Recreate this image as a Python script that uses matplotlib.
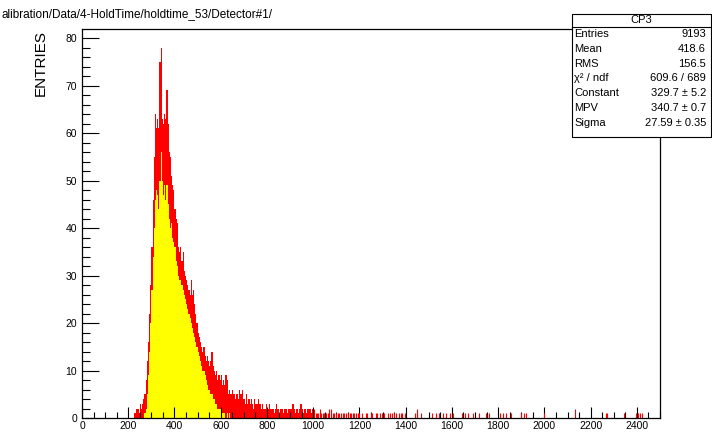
import matplotlib
matplotlib.use('Agg')
import numpy as np
from matplotlib import pyplot as plt
from matplotlib.ticker import MultipleLocator
from matplotlib.patches import Rectangle
from matplotlib.lines import Line2D

plt.rcParams['font.family'] = ['Liberation Sans', 'DejaVu Sans']

# dense part of the histogram, read as 5-unit columns: top of the red outline
# and top of the yellow fill in each column
dense_start = 225
dense_width = 5
upper = [1, 1, 2, 2, 1, 3, 2, 3,
         4, 5, 8, 12, 16, 22, 28, 36,
         46, 55, 64, 61, 63, 61, 75, 78,
         63, 62, 64, 63, 69, 62, 56, 55,
         51, 49, 48, 44, 42, 41, 36, 35,
         36, 33, 35, 31, 30, 29, 28, 27,
         26, 29, 26, 27, 24, 22, 20, 18,
         17, 16, 15, 14, 15, 13, 12, 13,
         12, 11, 12, 14, 11, 10, 9, 10,
         8, 9, 8, 9, 7, 8, 7, 9,
         8, 5, 6, 5, 5, 6, 5, 4,
         5, 5, 4, 6, 5, 6, 4, 4,
         3, 5, 3, 4, 3, 4, 3, 2,
         4, 3, 3, 4, 3, 3, 2, 3,
         2, 2, 3, 2, 2, 3, 2, 2,
         2, 1, 2, 3, 2, 1, 2, 2,
         2, 1, 2, 2, 1, 2, 2, 2,
         2, 3, 2, 1, 2, 2, 1, 2,
         3, 2, 1, 2, 2, 1, 2, 2,
         2, 1, 2]
lower = [0, 0, 0, 0, 0, 0, 0, 0,
         0, 1, 2, 5, 9, 14, 20, 27,
         34, 40, 46, 48, 47, 44, 50, 56,
         50, 47, 49, 46, 49, 45, 42, 40,
         41, 38, 37, 36, 33, 32, 30, 29,
         29, 28, 27, 26, 25, 24, 23, 22,
         21, 20, 19, 18, 17, 16, 15, 14,
         13, 12, 11, 10, 10, 9, 8, 7,
         6, 6, 5, 5, 4, 4, 3, 3,
         2, 2, 2, 1, 1, 1, 1, 0,
         1, 0, 1, 0, 0, 0, 0, 0] + [0] * 67

# isolated bins in the long tail
tail_x = [1003, 1010, 1016, 1022, 1029, 1035, 1041, 1048, 1055, 1062, 1070,
          1078, 1085, 1092, 1100, 1108, 1113, 1120, 1127, 1135, 1142, 1150,
          1158, 1163, 1170, 1178, 1185, 1192, 1198, 1213, 1227, 1233, 1248,
          1255, 1270, 1275, 1291, 1298, 1305, 1325, 1332, 1340, 1348, 1360,
          1370, 1378, 1385, 1395, 1442, 1450, 1465, 1515, 1530, 1545, 1560,
          1575, 1590, 1605, 1645, 1655, 1670, 1690, 1716, 1748, 1760, 1810,
          1820, 1835, 1855, 1898, 1910, 1922, 1999, 2133, 2265, 2272, 2346,
          2398, 2405, 2415, 2420]
tail_n = [2, 1, 1, 1, 2, 1, 1, 1, 1, 1, 2,
          2, 1, 1, 1, 1, 1, 1, 1, 1, 1, 1,
          1, 1, 1, 1, 1, 1, 1, 1, 1, 1, 1,
          1, 1, 1, 1, 1, 1, 1, 1, 1, 1, 1,
          1, 1, 1, 1, 1, 2, 1, 1, 1, 1, 1,
          1, 1, 1, 1, 1, 1, 1, 1, 1, 1, 1,
          1, 1, 1, 1, 1, 1, 1, 2, 1, 1, 1,
          1, 1, 1, 1]

stats_labels = ['Entries', 'Mean', 'RMS', 'χ² / ndf', 'Constant', 'MPV', 'Sigma']
stats_values = ['9193', '418.6', '156.5', '609.6 / 689', '329.7 ± 5.2',
                '340.7 ± 0.7', '27.59 ± 0.35']

W, H = 712, 432


def fx(px):
    return px / W


def fy(py):
    return 1 - py / H


fig = plt.figure(figsize=(W / 100, H / 100), dpi=100)
ax = fig.add_axes([fx(82), fy(418), (660 - 82) / W, (418 - 29) / H])

edges = dense_start + dense_width * np.arange(len(upper) + 1)
ax.stairs(lower, edges, fill=True, color='#ffff00', lw=0)
ax.stairs(upper, edges, baseline=lower, fill=True, color='#ff0000', lw=0)
ax.vlines(tail_x, 0, tail_n, color='#ff0000', lw=0.8)

ax.set_xlim(0, 2500)
ax.set_ylim(0, 81.9)
ax.xaxis.set_major_locator(MultipleLocator(200))
ax.xaxis.set_minor_locator(MultipleLocator(50))
ax.yaxis.set_major_locator(MultipleLocator(10))
ax.yaxis.set_minor_locator(MultipleLocator(2))
ax.tick_params(which='both', direction='in', top=False, right=False,
               width=0.8, color='black', labelsize=7.5)
ax.tick_params(axis='x', which='major', length=8, pad=2.5)
ax.tick_params(axis='x', which='minor', length=4)
ax.tick_params(axis='y', which='major', length=12, pad=3.5)
ax.tick_params(axis='y', which='minor', length=6)
for s in ax.spines.values():
    s.set_linewidth(0.9)

fig.text(fx(41), fy(30), 'ENTRIES', rotation=90, ha='center', va='top',
         fontsize=11)
# the pad title runs off the left edge in the original; only this part shows
fig.text(fx(1), fy(14), 'alibration/Data/4-HoldTime/holdtime_53/Detector#1/',
         ha='left', va='center', fontsize=8.5)

# stats box
fig.patches.append(Rectangle((fx(571.5), fy(136.5)), (710.5 - 571.5) / W,
                             (136.5 - 13.5) / H, transform=fig.transFigure,
                             facecolor='white', edgecolor='black', lw=0.8,
                             zorder=5))
fig.lines.append(Line2D([fx(571.5), fx(710.5)], [fy(26.8), fy(26.8)],
                        transform=fig.transFigure, color='black', lw=0.8,
                        zorder=6))
fig.text(fx(641), fy(20), 'CP3', ha='center', va='center', fontsize=8,
         zorder=7)
for i, (lab, val) in enumerate(zip(stats_labels, stats_values)):
    y = 34.3 + i * 14.73
    fig.text(fx(574), fy(y), lab, ha='left', va='center', fontsize=8, zorder=7)
    fig.text(fx(706), fy(y), val, ha='right', va='center', fontsize=8, zorder=7)

fig.savefig('out.png', dpi=100)
